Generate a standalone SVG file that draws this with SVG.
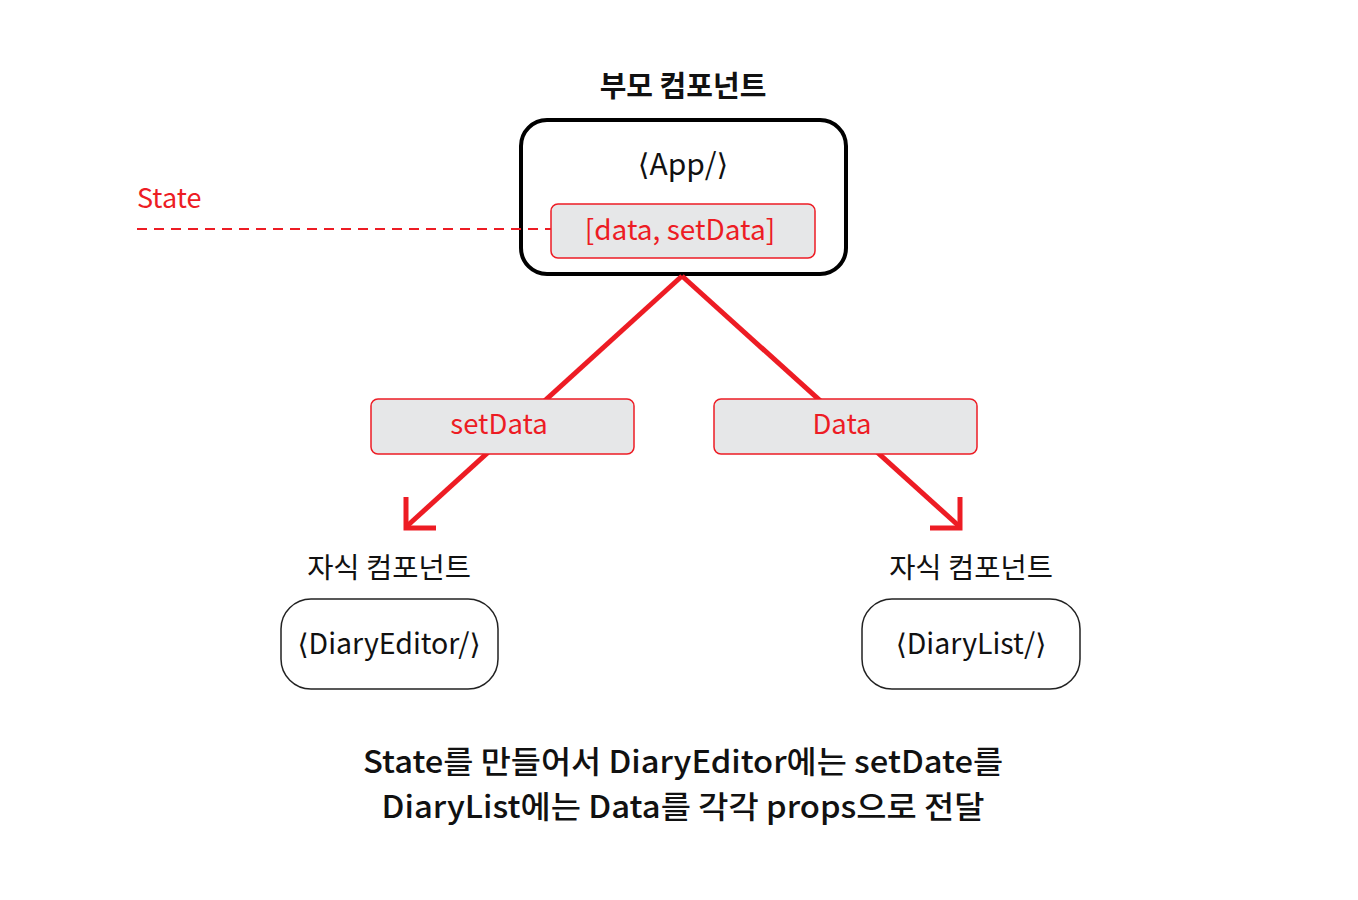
<svg xmlns="http://www.w3.org/2000/svg" width="1358" height="900" viewBox="0 0 1358 900">
<style>
text{font-family:"Noto Sans CJK KR","Noto Sans","DejaVu Sans",sans-serif;text-anchor:middle}
.red{fill:#ED1C24}
.blk{fill:#111}
.lbl{fill:#E6E7E8;stroke:#ED1C24;stroke-width:1.5}
.child{fill:#fff;stroke:#222;stroke-width:1.5}
.conn{stroke:#ED1C24;stroke-width:5;fill:none}
.head{stroke:#ED1C24;stroke-width:5;fill:none;stroke-linecap:butt}
</style>
<rect width="1358" height="900" fill="#fff"/>
<g id="app">
<rect x="521" y="120" width="325" height="154" rx="26" fill="#fff" stroke="#000" stroke-width="4"/>
<text x="683" y="175" class="blk" font-size="30">⟨App/⟩</text>
</g>
<g id="connectors">
<line class="conn" x1="682" y1="276" x2="406" y2="527"/>
<line class="conn" x1="682" y1="276" x2="960" y2="527"/>
<polyline class="head" points="406,497 406,528 436,528"/>
<polyline class="head" points="960,497 960,528 930,528"/>
<line x1="137" y1="229" x2="551" y2="229" stroke="#ED1C24" stroke-width="2" stroke-dasharray="10,7"/>
</g>
<g id="state-label"><text x="137" y="208" class="red" font-size="27" style="text-anchor:start">State</text></g>
<g id="parent-title"><text x="683" y="97" class="blk" font-size="29" font-weight="600">부모 컴포넌트</text></g>
<g id="state-box">
<rect x="551" y="204" width="264" height="54" rx="7" class="lbl"/>
<text x="680" y="240" class="red" font-size="28">[data, setData]</text>
</g>
<g id="setdata-label">
<rect x="371" y="399" width="263" height="55" rx="7" class="lbl"/>
<text x="499" y="434" class="red" font-size="27.5">setData</text>
</g>
<g id="data-label">
<rect x="714" y="399" width="263" height="55" rx="7" class="lbl"/>
<text x="842" y="434" class="red" font-size="27.5">Data</text>
</g>
<g id="child-left">
<text x="389" y="578" class="blk" font-size="28.5">자식 컴포넌트</text>
<rect x="281" y="599" width="217" height="90" rx="30" class="child"/>
<text x="389" y="654" class="blk" font-size="28.5">⟨DiaryEditor/⟩</text>
</g>
<g id="child-right">
<text x="971" y="578" class="blk" font-size="28.5">자식 컴포넌트</text>
<rect x="862" y="599" width="218" height="90" rx="30" class="child"/>
<text x="971" y="654" class="blk" font-size="28.5">⟨DiaryList/⟩</text>
</g>
<g id="caption">
<text x="683" y="773" class="blk" font-size="31" font-weight="500" textLength="640" lengthAdjust="spacingAndGlyphs">State를 만들어서 DiaryEditor에는 setDate를</text>
<text x="683" y="818" class="blk" font-size="31" font-weight="500" textLength="603" lengthAdjust="spacingAndGlyphs">DiaryList에는 Data를 각각 props으로 전달</text>
</g>
</svg>
